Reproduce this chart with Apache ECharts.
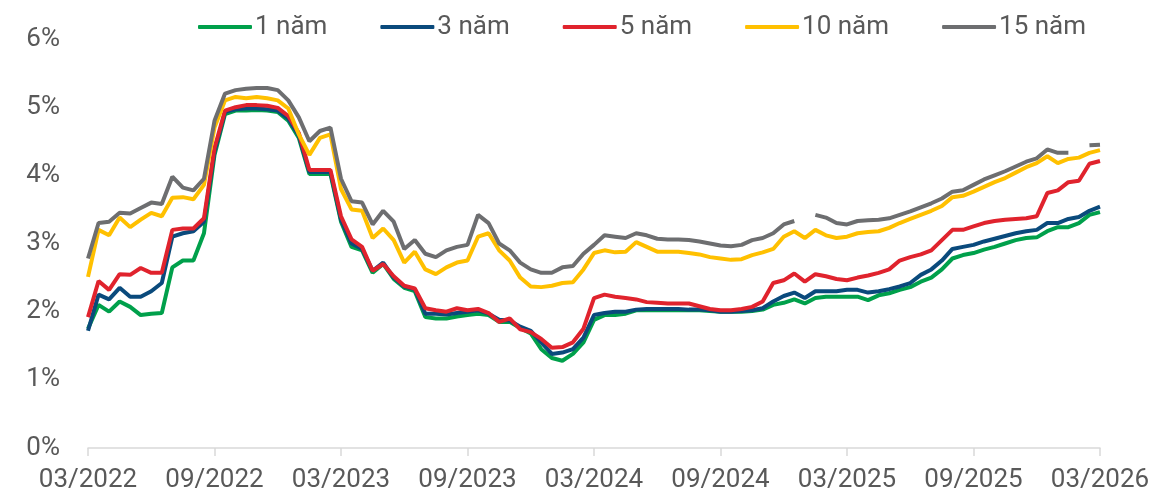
<!DOCTYPE html>
<html>
<head>
<meta charset="utf-8">
<script src="https://cdn.jsdelivr.net/npm/echarts@6/dist/echarts.min.js"></script>
<style>
  html, body { margin: 0; padding: 0; background: #fff; }
  #main { width: 1175px; height: 498px; }
</style>
</head>
<body>
<div id="main"></div>
<script>
// semi-monthly points, 03/2022 -> 03/2026
var tickLabels = ['03/2022', '09/2022', '03/2023', '09/2023', '03/2024', '09/2024', '03/2025', '09/2025', '03/2026'];
var seriesNames = ['1 năm', '3 năm', '5 năm', '10 năm', '15 năm'];
var colors = ['#00a04b', '#0a4a7c', '#e0232d', '#ffc000', '#6d6e70'];

var dates = [];
for (var i = 0; i <= 96; i++) {
  var m = 2 + Math.floor(i / 2);
  var y = 2022 + Math.floor(m / 12);
  dates.push(y + '-' + String(m % 12 + 1).padStart(2, '0') + (i % 2 ? '-16' : '-01'));
}

var y1 = [1.75, 2.10, 2.00, 2.15, 2.07, 1.95, 1.97, 1.98, 2.65, 2.75, 2.75, 3.15,
  4.30, 4.90, 4.95, 4.95, 4.96, 4.95, 4.93, 4.80, 4.55, 4.02, 4.02, 4.02,
  3.32, 2.95, 2.90, 2.57, 2.70, 2.48, 2.35, 2.30, 1.92, 1.90, 1.90, 1.93,
  1.95, 1.97, 1.95, 1.85, 1.85, 1.76, 1.68, 1.45, 1.32, 1.28, 1.38, 1.55,
  1.88, 1.95, 1.95, 1.97, 2.02, 2.02, 2.02, 2.02, 2.02, 2.02, 2.02, 2.01,
  2.00, 2.00, 2.00, 2.01, 2.03, 2.10, 2.13, 2.18, 2.12, 2.20, 2.22, 2.22,
  2.22, 2.22, 2.17, 2.24, 2.27, 2.32, 2.36, 2.44, 2.50, 2.62, 2.78, 2.83,
  2.86, 2.91, 2.95, 3.00, 3.05, 3.08, 3.09, 3.18, 3.24, 3.24, 3.30, 3.42, 3.46];

var y3 = [1.72, 2.25, 2.18, 2.35, 2.22, 2.22, 2.30, 2.42, 3.10, 3.15, 3.18, 3.32,
  4.35, 4.93, 4.97, 4.98, 4.98, 4.97, 4.95, 4.83, 4.58, 4.05, 4.05, 4.05,
  3.35, 3.00, 2.92, 2.60, 2.72, 2.50, 2.37, 2.33, 1.97, 1.97, 1.96, 1.98,
  2.00, 2.02, 1.97, 1.88, 1.87, 1.78, 1.72, 1.55, 1.38, 1.40, 1.45, 1.62,
  1.95, 1.98, 2.00, 2.00, 2.03, 2.04, 2.04, 2.04, 2.04, 2.03, 2.03, 2.02,
  2.00, 2.00, 2.01, 2.02, 2.05, 2.15, 2.23, 2.28, 2.20, 2.30, 2.30, 2.30,
  2.32, 2.32, 2.28, 2.30, 2.33, 2.37, 2.42, 2.54, 2.62, 2.75, 2.92, 2.95,
  2.98, 3.03, 3.07, 3.11, 3.15, 3.18, 3.20, 3.30, 3.30, 3.36, 3.39, 3.48, 3.54];

var y5 = [1.92, 2.45, 2.32, 2.55, 2.54, 2.64, 2.57, 2.57, 3.20, 3.22, 3.22, 3.37,
  4.40, 4.95, 5.00, 5.03, 5.03, 5.02, 4.99, 4.87, 4.62, 4.08, 4.08, 4.08,
  3.40, 3.06, 2.95, 2.60, 2.70, 2.52, 2.38, 2.34, 2.05, 2.02, 2.00, 2.05,
  2.02, 2.04, 1.98, 1.85, 1.90, 1.74, 1.70, 1.60, 1.47, 1.48, 1.55, 1.75,
  2.20, 2.25, 2.22, 2.20, 2.18, 2.14, 2.13, 2.12, 2.12, 2.12, 2.08, 2.04,
  2.02, 2.02, 2.04, 2.07, 2.15, 2.42, 2.46, 2.56, 2.44, 2.55, 2.52, 2.48,
  2.46, 2.50, 2.53, 2.57, 2.62, 2.75, 2.80, 2.84, 2.90, 3.05, 3.20, 3.20,
  3.25, 3.30, 3.33, 3.35, 3.36, 3.37, 3.40, 3.74, 3.78, 3.90, 3.92, 4.17, 4.21];

var y10 = [2.51, 3.20, 3.12, 3.38, 3.24, 3.35, 3.45, 3.40, 3.67, 3.68, 3.65, 3.86,
  4.70, 5.10, 5.15, 5.13, 5.15, 5.13, 5.10, 4.98, 4.60, 4.30, 4.55, 4.60,
  3.80, 3.50, 3.48, 3.08, 3.22, 3.05, 2.72, 2.88, 2.62, 2.55, 2.65, 2.72,
  2.75, 3.10, 3.15, 2.90, 2.75, 2.50, 2.37, 2.36, 2.38, 2.42, 2.43, 2.62,
  2.86, 2.90, 2.87, 2.88, 3.02, 2.95, 2.88, 2.88, 2.88, 2.86, 2.84, 2.80,
  2.78, 2.76, 2.77, 2.83, 2.87, 2.92, 3.10, 3.18, 3.08, 3.20, 3.12, 3.08,
  3.10, 3.15, 3.17, 3.18, 3.23, 3.30, 3.36, 3.42, 3.48, 3.55, 3.68, 3.70,
  3.76, 3.83, 3.90, 3.96, 4.04, 4.12, 4.18, 4.28, 4.18, 4.24, 4.26, 4.33, 4.37];

var y15 = [2.78, 3.30, 3.32, 3.45, 3.44, 3.52, 3.60, 3.58, 3.98, 3.82, 3.78, 3.95,
  4.80, 5.20, 5.25, 5.27, 5.28, 5.28, 5.25, 5.10, 4.85, 4.50, 4.65, 4.70,
  3.95, 3.62, 3.60, 3.28, 3.48, 3.32, 2.92, 3.05, 2.85, 2.80, 2.90, 2.95,
  2.98, 3.42, 3.30, 3.00, 2.90, 2.72, 2.62, 2.57, 2.57, 2.65, 2.67, 2.85,
  2.98, 3.12, 3.10, 3.08, 3.15, 3.12, 3.07, 3.06, 3.06, 3.05, 3.03, 3.00,
  2.97, 2.96, 2.98, 3.05, 3.08, 3.15, 3.28, 3.33, null, 3.42, 3.38, 3.30,
  3.28, 3.33, 3.34, 3.35, 3.37, 3.42, 3.47, 3.53, 3.59, 3.66, 3.76, 3.78,
  3.86, 3.94, 4.00, 4.06, 4.13, 4.20, 4.25, 4.38, 4.33, 4.33, null, 4.44, 4.45];

var allData = [y1, y3, y5, y10, y15];

var myChart = echarts.init(document.getElementById('main'));
var font = 'Roboto';

myChart.setOption({
  animation: false,
  color: colors,
  legend: {
    top: 9,
    left: 193,
    icon: 'roundRect',
    itemWidth: 54,
    itemHeight: 4,
    itemGap: 53,
    textStyle: { fontFamily: font, fontSize: 26, color: '#595959', padding: [0, 0, 0, -2] },
    data: seriesNames
  },
  grid: { left: 88, right: 75, top: 39, bottom: 50 },
  xAxis: {
    type: 'category',
    boundaryGap: false,
    data: dates,
    axisLine: { lineStyle: { color: '#d9d9d9', width: 1.5 } },
    axisTick: {
      interval: function (idx) { return idx % 12 === 0; },
      length: 8,
      lineStyle: { color: '#d9d9d9', width: 1.5 }
    },
    axisLabel: {
      interval: function (idx) { return idx % 12 === 0; },
      formatter: function (v, idx) { return tickLabels[idx / 12]; },
      margin: 19,
      fontFamily: font,
      fontSize: 26,
      color: '#595959'
    },
    splitLine: { show: false }
  },
  yAxis: {
    type: 'value',
    min: 0,
    max: 6,
    interval: 1,
    axisLine: { show: false },
    axisTick: { show: false },
    splitLine: { show: false },
    axisLabel: {
      formatter: '{value}%',
      margin: 28,
      fontFamily: font,
      fontSize: 26,
      color: '#595959'
    }
  },
  series: seriesNames.map(function (name, k) {
    return {
      name: name,
      type: 'line',
      data: allData[k],
      showSymbol: false,
      connectNulls: false,
      lineStyle: { width: 4, color: colors[k] },
      itemStyle: { color: colors[k] }
    };
  })
});
</script>
</body>
</html>
